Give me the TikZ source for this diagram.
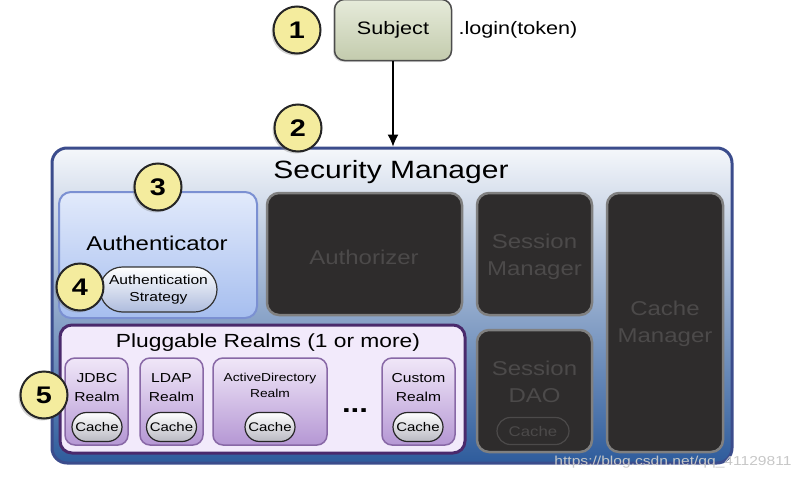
\documentclass[tikz,border=0pt]{standalone}
\usepackage{fontspec}
\setmainfont[FakeStretch=1.2]{Liberation Sans}
\usetikzlibrary{shapes.misc,shadows,arrows.meta}

\definecolor{numfill}{HTML}{F4EC9E}
\definecolor{subjtop}{HTML}{E6EBDA}
\definecolor{subjbot}{HTML}{C3CBAD}
\definecolor{smtop}{HTML}{F5F7FB}
\definecolor{smmid}{HTML}{CDD7E5}
\definecolor{smbot}{HTML}{2E5C9C}
\definecolor{smline}{HTML}{3B4C8C}
\definecolor{authtop}{HTML}{E2EAFB}
\definecolor{authbot}{HTML}{A6BEEF}
\definecolor{authline}{HTML}{7B90D2}
\definecolor{darkfill}{HTML}{2E2C2C}
\definecolor{darkline}{HTML}{808080}
\definecolor{darktext}{HTML}{4C4A4A}
\definecolor{plugfill}{HTML}{F2EAFB}
\definecolor{plugline}{HTML}{4A2A6C}
\definecolor{realmtop}{HTML}{F0E7F8}
\definecolor{realmbot}{HTML}{B597D4}
\definecolor{realmline}{HTML}{8868A6}
\definecolor{cachebot}{HTML}{B9B9C2}

\tikzset{
  num/.style={circle, draw=black!85, line width=2pt, fill=numfill,
    minimum size=47pt, inner sep=0pt,
    font=\fontsize{24}{24}\selectfont\bfseries,
    drop shadow={shadow xshift=-2pt, shadow yshift=-2pt, opacity=.35}},
  darkbox/.style={rounded corners=12pt, fill=darkfill, draw=darkline,
    line width=2.5pt, text=darktext, align=center, inner sep=0pt,
    font=\fontsize{20}{27}\selectfont},
  realm/.style={rounded corners=10pt, top color=realmtop, bottom color=realmbot,
    draw=realmline, line width=1.5pt, minimum height=87pt, inner sep=0pt},
  realmtext/.style={align=center, font=\fontsize{13}{19}\selectfont},
  cache/.style={rounded rectangle, draw=black!85, line width=1.2pt,
    top color=white, bottom color=cachebot, minimum width=50pt,
    minimum height=29pt, inner sep=0pt, font=\fontsize{12.5}{12.5}\selectfont}
}

\begin{document}
\begin{tikzpicture}[x=1pt, y=-1pt]
  \useasboundingbox (0,0) rectangle (803,479);

  % subject on top
  \node (subj) [rounded corners=10pt, top color=subjtop, bottom color=subjbot,
    draw=black!70, line width=1.5pt, minimum width=117pt, minimum height=61pt,
    font=\fontsize{18}{18}\selectfont,
    drop shadow={shadow xshift=-1.5pt, shadow yshift=-1.5pt, opacity=.25}]
    at (393,30) {Subject};
  \node (login) at (518,30) [font=\fontsize{18}{18}\selectfont] {.login(token)};
  \node (n1) [num] at (297,30) {1};

  % security manager
  \node (sm) [rounded corners=15pt, top color=smtop, middle color=smmid,
    bottom color=smbot, draw=smline, line width=3pt,
    minimum width=680pt, minimum height=315pt] at (392,305.5) {};
  \node (smtitle) at (391,172) [font=\fontsize{25}{25}\selectfont] {Security Manager};
  \node (n2) [num] at (298,128) {2};
  \draw[line width=1.2pt, -{Latex[length=12pt,width=11pt]}] (subj.south) -- (subj.south |- sm.north);

  % authenticator
  \node (auth) [rounded corners=12pt, top color=authtop, bottom color=authbot,
    draw=authline, line width=2pt, minimum width=198pt, minimum height=126pt]
    at (158,255) {};
  \node (authtext) at (157,243) [font=\fontsize{20}{20}\selectfont] {Authenticator};
  \node (strat) [rounded rectangle, draw=black!80, line width=1.2pt,
    top color=white, bottom color=authbot!60!cachebot, minimum width=117pt,
    minimum height=45pt, inner sep=0pt, align=center,
    font=\fontsize{13}{17}\selectfont] at (158.5,289.5) {Authentication\\Strategy};
  \node (n3) [num] at (158,187) {3};
  \node (n4) [num] at (80,287) {4};

  % dark components
  \node (authz) [darkbox, minimum width=195pt, minimum height=122pt] at (364.5,254) {};
  \node at (364,257) [text=darktext, font=\fontsize{20}{20}\selectfont] {Authorizer};
  \node (sessmgr) [darkbox, minimum width=115pt, minimum height=122pt] at (534.5,254) {};
  \node at (534.5,257) [darkbox, draw=none, fill=none] {Session\\Manager};
  \node (sessdao) [darkbox, minimum width=115pt, minimum height=122pt] at (534.5,391) {};
  \node at (534.5,382) [darkbox, draw=none, fill=none] {Session\\DAO};
  \node (daocache) [rounded rectangle, draw=darktext, line width=1.2pt,
    text=darktext, minimum width=72pt, minimum height=27pt, inner sep=0pt,
    font=\fontsize{14}{14}\selectfont] at (533,431) {Cache};
  \node (cachemgr) [darkbox, minimum width=116pt, minimum height=259pt] at (665,322.5) {};
  \node at (665,324) [darkbox, draw=none, fill=none] {Cache\\Manager};

  % pluggable realms
  \node (realms) [rounded corners=12pt, fill=plugfill, draw=plugline,
    line width=3pt, minimum width=405pt, minimum height=128pt] at (262.5,389) {};
  \node (realmtitle) at (268,343) [font=\fontsize{19}{19}\selectfont] {Pluggable Realms (1 or more)};

  \node (jdbc) [realm, minimum width=63pt] at (96.5,401.5) {};
  \node at (97,388) [realmtext] {JDBC\\Realm};
  \node (jdbccache) [cache] at (97,427) {Cache};

  \node (ldap) [realm, minimum width=63pt] at (171.5,401.5) {};
  \node at (171.5,388) [realmtext] {LDAP\\Realm};
  \node (ldapcache) [cache] at (171.5,427) {Cache};

  \node (ad) [realm, minimum width=114pt] at (270,401.5) {};
  \node at (270,385) [realmtext, font=\fontsize{11.5}{16}\selectfont] {ActiveDirectory\\Realm};
  \node (adcache) [cache] at (270,427) {Cache};

  \node (dots) at (355,411) [font=\fontsize{26}{26}\selectfont\bfseries] {...};

  \node (custom) [realm, minimum width=73pt] at (418.5,401.5) {};
  \node at (418.5,388) [realmtext] {Custom\\Realm};
  \node (customcache) [cache] at (418,427) {Cache};

  \node (n5) [num] at (44,395) {5};

  % watermark
  \node (mark) at (673,462) [text=black!22, font=\fontsize{13}{13}\selectfont] {https://blog.csdn.net/qq\_41129811};
\end{tikzpicture}
\end{document}
